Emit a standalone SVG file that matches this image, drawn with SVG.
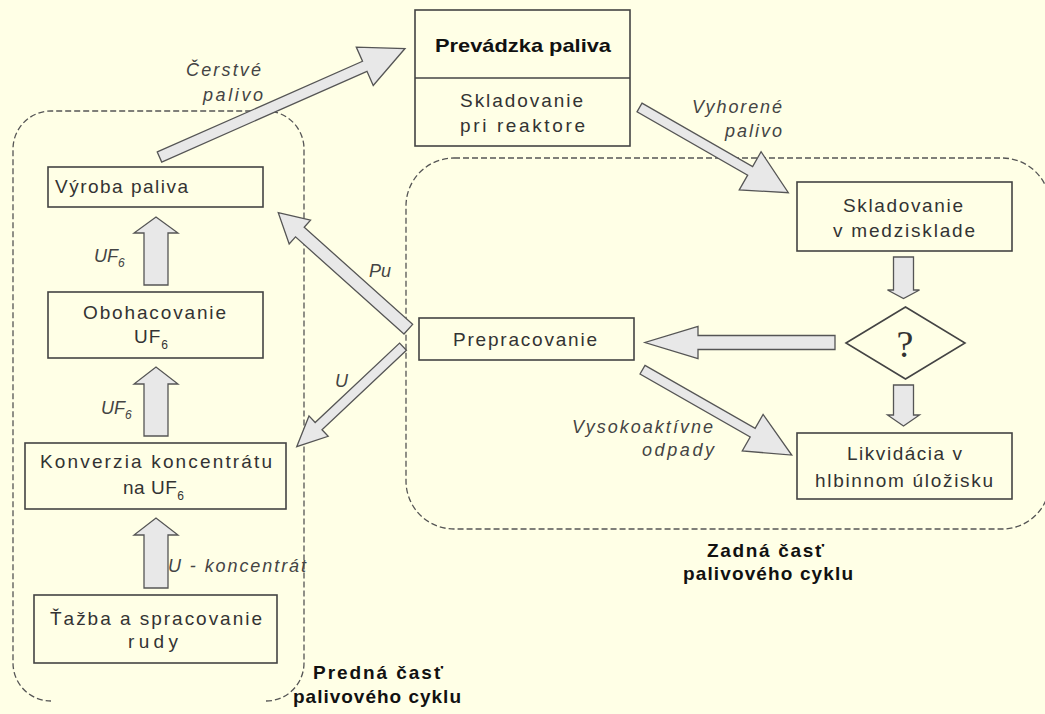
<svg xmlns="http://www.w3.org/2000/svg" width="1045" height="714" viewBox="0 0 1045 714">
  <style>
    .region { fill: none; stroke: #555; stroke-width: 1.3; stroke-dasharray: 6 3; }
    .box { fill: none; stroke: #444; stroke-width: 1.6; }
    .arrow { fill: #E8E8E8; stroke: #555; stroke-width: 1.3; stroke-linejoin: miter; }
    .txt { font-family: "Liberation Sans", Arial, sans-serif; font-size: 19px; fill: #333; }
    .lbl { font-family: "Liberation Sans", Arial, sans-serif; font-size: 18px; font-style: italic; fill: #444; }
    .ttl { font-family: "Liberation Sans", Arial, sans-serif; font-size: 19px; font-weight: bold; fill: #111; }
  </style>
  <rect x="0" y="0" width="1045" height="714" fill="#FFFFE6"/>

  <!-- cycle regions -->
  <g id="regions">
    <path class="region" d="M 266,701 A 38 38 0 0 0 304,663 L 304,149 A 38 38 0 0 0 266,111 L 51,111 A 38 38 0 0 0 13,149 L 13,663 A 38 38 0 0 0 51,701"/>
    <rect class="region" x="406" y="158" width="644" height="371" rx="48" ry="48"/>
  </g>

  <!-- nodes -->
  <g id="prevadzka">
    <rect class="box" x="415" y="10" width="215" height="136"/>
    <line class="box" x1="415" y1="78" x2="630" y2="78"/>
    <text class="ttl" x="435" y="52" textLength="176" lengthAdjust="spacingAndGlyphs">Prevádzka paliva</text>
    <text class="txt" x="460" y="107" textLength="123">Skladovanie</text>
    <text class="txt" x="460" y="132" textLength="125">pri reaktore</text>
  </g>
  <g id="vyroba">
    <rect class="box" x="48" y="167" width="215" height="40"/>
    <text class="txt" x="55" y="193" textLength="133">Výroba paliva</text>
  </g>
  <g id="obohacovanie">
    <rect class="box" x="48" y="292" width="215" height="66"/>
    <text class="txt" x="83" y="319" textLength="143">Obohacovanie</text>
    <text class="txt" x="134" y="343" letter-spacing="1">UF<tspan font-size="12" dy="6">6</tspan></text>
  </g>
  <g id="konverzia">
    <rect class="box" x="25" y="443" width="261" height="66"/>
    <text class="txt" x="40" y="468" textLength="232">Konverzia koncentrátu</text>
    <text class="txt" x="123" y="494" letter-spacing="0.5">na UF<tspan font-size="12" dy="6">6</tspan></text>
  </g>
  <g id="tazba">
    <rect class="box" x="34" y="595" width="243" height="68"/>
    <text class="txt" x="50" y="625" textLength="212">Ťažba a spracovanie</text>
    <text class="txt" x="128" y="648" textLength="50">rudy</text>
  </g>
  <g id="prepracovanie">
    <rect class="box" x="419" y="318" width="215" height="42"/>
    <text class="txt" x="453" y="346" textLength="144">Prepracovanie</text>
  </g>
  <g id="medzisklad">
    <rect class="box" x="797" y="182" width="215" height="69"/>
    <text class="txt" x="843" y="212" textLength="120">Skladovanie</text>
    <text class="txt" x="833" y="237" textLength="142">v medzisklade</text>
  </g>
  <g id="rozhodnutie">
    <polygon class="box" points="846,343 905.5,307 965,343 905.5,379"/>
    <text x="905" y="357" text-anchor="middle" font-family="'Liberation Serif', 'Times New Roman', serif" font-size="38" fill="#333">?</text>
  </g>
  <g id="likvidacia">
    <rect class="box" x="797" y="433" width="215" height="66"/>
    <text class="txt" x="847" y="460" textLength="115">Likvidácia v</text>
    <text class="txt" x="815" y="487" textLength="178">hlbinnom úložisku</text>
  </g>

  <!-- connectors -->
  <g id="connectors">
    <polygon class="arrow" transform="translate(159.5,157) rotate(-23.84)" points="0,-5.5 224.4,-5.5 224.4,-21 268.4,0 224.4,21 224.4,5.5 0,5.5"/>
    <polygon class="arrow" transform="translate(639.5,107.5) rotate(29.79)" points="0,-5 127.5,-5 127.5,-22 171.5,0 127.5,22 127.5,5 0,5"/>
    <polygon class="arrow" transform="translate(408.3,329.2) rotate(-138.14)" points="0,-6.5 145.6,-6.5 145.6,-16 174.6,0 145.6,16 145.6,6.5 0,6.5"/>
    <polygon class="arrow" transform="translate(403,346.7) rotate(136.75)" points="0,-5 115.9,-5 115.9,-14 145.9,0 115.9,14 115.9,5 0,5"/>
    <polygon class="arrow" transform="translate(642.5,369.7) rotate(29.76)" points="0,-5 126.9,-5 126.9,-21 171.9,0 126.9,21 126.9,5 0,5"/>
    <polygon class="arrow" points="835,335.5 698,335.5 698,326.5 645,342.5 698,358.5 698,349.5 835,349.5"/>
    <polygon class="arrow" points="893.5,257 913.5,257 913.5,290 919.5,290 903.5,298.5 887.5,290 893.5,290"/>
    <polygon class="arrow" points="893.5,385 913.5,385 913.5,415 919.5,415 903.5,426 887.5,415 893.5,415"/>
    <polygon class="arrow" points="144,285 144,233 134,233 156,217 178,233 168,233 168,285"/>
    <polygon class="arrow" points="144,436 144,384 134,384 156,367 178,384 168,384 168,436"/>
    <polygon class="arrow" points="144,588 144,535 134,535 156,518 178,535 168,535 168,588"/>
  </g>

  <!-- connector labels -->
  <g id="labels">
    <text class="lbl" x="186" y="76" textLength="75">Čerstvé</text>
    <text class="lbl" x="203" y="101" textLength="60">palivo</text>
    <text class="lbl" x="692" y="113" textLength="90">Vyhorené</text>
    <text class="lbl" x="725" y="137" textLength="57">palivo</text>
    <text class="lbl" x="94" y="262">UF<tspan font-size="12" dy="5">6</tspan></text>
    <text class="lbl" x="101" y="414">UF<tspan font-size="12" dy="5">6</tspan></text>
    <text class="lbl" x="369" y="277">Pu</text>
    <text class="lbl" x="335" y="387">U</text>
    <text class="lbl" x="168" y="572" textLength="138">U - koncentrát</text>
    <text class="lbl" x="572" y="433" textLength="141">Vysokoaktívne</text>
    <text class="lbl" x="642" y="456" textLength="72">odpady</text>
  </g>

  <!-- region titles -->
  <g id="titles">
    <text class="ttl" x="313" y="679" textLength="130">Predná časť</text>
    <text class="ttl" x="293" y="703" textLength="168">palivového cyklu</text>
    <text class="ttl" x="707" y="557" textLength="117">Zadná časť</text>
    <text class="ttl" x="683" y="580" textLength="170">palivového cyklu</text>
  </g>
</svg>
